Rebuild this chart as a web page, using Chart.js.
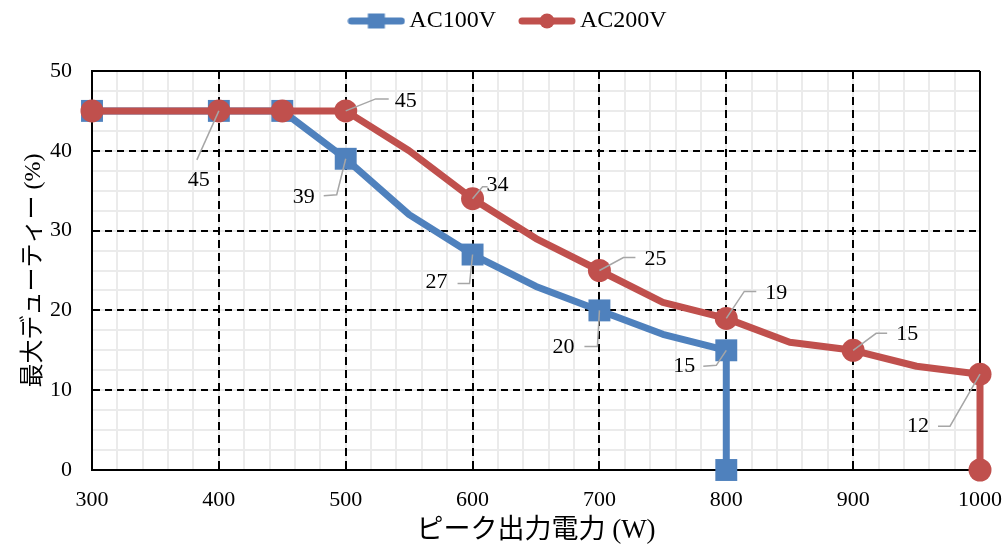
<!DOCTYPE html>
<html><head><meta charset="utf-8">
<script src="https://cdn.jsdelivr.net/npm/chart.js@4/dist/chart.umd.min.js"></script>
<style>html,body{margin:0;padding:0;background:#fff;}#wrap{width:1006px;height:551px;position:relative;}</style>
</head><body><div id="wrap"><canvas id="c" width="1006" height="551"></canvas></div>
<script>
// ---- data ----
const seriesNames = ['AC100V', 'AC200V'];
const power100 = [300, 400, 450, 500, 550, 600, 650, 700, 750, 800, 800];
const duty100  = [45, 45, 45, 39, 32, 27, 23, 20, 17, 15, 0];
const power200 = [300, 400, 450, 500, 550, 600, 650, 700, 750, 800, 850, 900, 950, 1000, 1000];
const duty200  = [45, 45, 45, 45, 40, 34, 29, 25, 21, 19, 16, 15, 13, 12, 0];
const marked100 = [0, 1, 2, 3, 5, 7, 9, 10];
const marked200 = [0, 1, 2, 3, 5, 7, 9, 11, 13, 14];
const labelled100 = [1, 3, 5, 7, 9];
const labelled200 = [3, 5, 7, 9, 11, 13];
const xMin = 300, xMax = 1000, xStep = 100, xMinorStep = 20;
const yMin = 0, yMax = 50, yStep = 10, yMinorStep = 2.5;
const xTitle = 'ピーク出力電力 (W)';
const yTitle = '最大デューティー (%)';

// ---- style ----
const BLUE = '#4F81BD', RED = '#C0504D';
const SERIF = "'Liberation Serif','Times New Roman','Noto Sans CJK JP',serif";
const TITLEFONT = "'Liberation Serif','Noto Sans CJK JP',serif";
// label placement: [textDx, textDy, elbowDx, elbowDy, endDx, endDy] relative to point pixel
const place100 = {
  1: [-20, 69, -22, 49, -22, 49],
  3: [-42, 38, -9, 36, -22, 37],
  5: [-36, 28, -3, 29, -15, 29],
  7: [-36, 37, -2, 36, -15, 36],
  9: [-42, 16, -10, 15, -23, 16]
};
const place200 = {
  3: [60, -10, 30, -12, 43, -12],
  5: [25, -13, 10, -12, 15, -12],
  7: [56, -11, 24, -13, 36, -13],
  9: [50, -25, 18, -27, 30, -27],
  11: [54, -16, 23, -17, 34, -17],
  13: [-62, 52, -30, 52, -42, 52]
};

function pts(xs, ys) { return xs.map((x, i) => ({x: x, y: ys[i]})); }

function legendIcon(color, shape) {
  const c = document.createElement('canvas');
  c.width = 58; c.height = 22;
  const g = c.getContext('2d');
  g.strokeStyle = color; g.lineWidth = 7; g.lineCap = 'round';
  g.beginPath(); g.moveTo(4, 11); g.lineTo(54, 11); g.stroke();
  g.fillStyle = color;
  if (shape === 'rect') { g.fillRect(29 - 8.5, 11 - 7.5, 17, 15); }
  else { g.beginPath(); g.arc(29, 11, 7.5, 0, Math.PI * 2); g.fill(); }
  return c;
}
const icons = [legendIcon(BLUE, 'rect'), legendIcon(RED, 'circle')];

const labelPlugin = {
  id: 'leaderLabels',
  afterDatasetsDraw(chart) {
    const ctx = chart.ctx;
    const sets = [[labelled100, place100, duty100], [labelled200, place200, duty200]];
    sets.forEach((s, di) => {
      const meta = chart.getDatasetMeta(di);
      s[0].forEach(idx => {
        const el = meta.data[idx];
        const p = s[1][idx];
        const x = el.x, y = el.y;
        ctx.save();
        ctx.strokeStyle = '#A6A6A6'; ctx.lineWidth = 1.5;
        ctx.beginPath(); ctx.moveTo(x, y); ctx.lineTo(x + p[2], y + p[3]); ctx.lineTo(x + p[4], y + p[5]); ctx.stroke();
        ctx.fillStyle = '#000';
        ctx.font = '22px ' + SERIF;
        ctx.textAlign = 'center'; ctx.textBaseline = 'middle';
        ctx.fillText(String(s[2][idx]), x + p[0], y + p[1]);
        ctx.restore();
      });
    });
  }
};

const LEGEND_SHIFT = 21, LEGEND_DX = 21;
const legendPatchPlugin = {
  id: 'legendPatch',
  beforeUpdate(chart) {
    const lg = chart.legend;
    if (lg && !lg._patched) {
      const f = lg.fit, d = lg.draw;
      lg.fit = function () { f.call(this); this.height = 71 + LEGEND_SHIFT; };
      lg.draw = function () { const c = this.ctx; c.save(); c.translate(LEGEND_DX, 0); d.call(this); c.restore(); };
      lg._patched = true;
    }
  }
};

function majorDash(edgeVals, pattern) {
  return ctx => (ctx.type === 'tick' && edgeVals.indexOf(ctx.tick.value) < 0) ? pattern : [];
}

new Chart(document.getElementById('c'), {
  type: 'line',
  data: {
    datasets: [
      {
        label: seriesNames[0], data: pts(power100, duty100),
        borderColor: BLUE, backgroundColor: BLUE, borderWidth: 7,
        pointStyle: 'rect', pointBorderWidth: 0, clip: false,
        pointRadius: c => marked100.indexOf(c.dataIndex) >= 0 ? 15.5 : 0,
        pointHoverRadius: c => marked100.indexOf(c.dataIndex) >= 0 ? 15.5 : 0,
        tension: 0, order: 2, borderJoinStyle: 'round'
      },
      {
        label: seriesNames[1], data: pts(power200, duty200),
        borderColor: RED, backgroundColor: RED, borderWidth: 7,
        pointStyle: 'circle', pointBorderWidth: 0, clip: false,
        pointRadius: c => marked200.indexOf(c.dataIndex) >= 0 ? 11.5 : 0,
        pointHoverRadius: c => marked200.indexOf(c.dataIndex) >= 0 ? 11.5 : 0,
        tension: 0, order: 1, borderJoinStyle: 'round'
      }
    ]
  },
  options: {
    responsive: false, animation: false, devicePixelRatio: 1,
    layout: { padding: { top: -LEGEND_SHIFT, left: 0, right: 26, bottom: 0 } },
    plugins: {
      tooltip: { enabled: false },
      legend: {
        position: 'top',
        labels: {
          usePointStyle: true, pointStyleWidth: 42, boxHeight: 24,
          padding: 30, color: '#000',
          font: { family: SERIF, size: 24 },
          sort: (a, b) => a.datasetIndex - b.datasetIndex,
          generateLabels: chart => {
            const items = Chart.defaults.plugins.legend.labels.generateLabels(chart);
            items.forEach(it => { it.pointStyle = icons[it.datasetIndex]; });
            return items;
          }
        }
      }
    },
    scales: {
      xMinor: {
        type: 'linear', position: 'bottom', min: xMin, max: xMax,
        ticks: { display: false, stepSize: xMinorStep },
        grid: { color: '#EBEBEB', lineWidth: 2, drawTicks: false, z: -2 },
        border: { display: false },
        afterFit: s => { s.height = 0; s.paddingLeft = 0; s.paddingRight = 0; }
      },
      yMinor: {
        type: 'linear', position: 'left', min: yMin, max: yMax,
        ticks: { display: false, stepSize: yMinorStep },
        grid: { color: '#EBEBEB', lineWidth: 2, drawTicks: false, z: -2 },
        border: { display: false },
        afterFit: s => { s.width = 0; }
      },
      x: {
        type: 'linear', position: 'bottom', min: xMin, max: xMax,
        ticks: { stepSize: xStep, color: '#000', padding: 17, font: { family: SERIF, size: 22 }, callback: v => String(v) },
        grid: { color: '#000', lineWidth: 2, drawTicks: false },
        border: { display: true, color: '#000', width: 2, dash: majorDash([xMin, xMax], [8, 5]) },
        title: { display: true, text: xTitle, color: '#000', font: { family: TITLEFONT, size: 27 }, padding: { top: 0, bottom: 4 } },
        afterFit: s => { s.height = 81; s.paddingLeft = 0; s.paddingRight = 0; }
      },
      y: {
        type: 'linear', position: 'left', min: yMin, max: yMax,
        ticks: { stepSize: yStep, color: '#000', padding: 20, font: { family: SERIF, size: 22 }, callback: v => String(v) },
        grid: { color: '#000', lineWidth: 2, drawTicks: false },
        border: { display: true, color: '#000', width: 2, dash: majorDash([yMin, yMax], [7, 5]) },
        title: { display: true, text: yTitle, color: '#000', font: { family: TITLEFONT, size: 24 }, padding: { top: 19, bottom: 0 } },
        afterFit: s => { s.width = 92; }
      }
    }
  },
  plugins: [legendPatchPlugin, labelPlugin]
});
</script></body></html>
